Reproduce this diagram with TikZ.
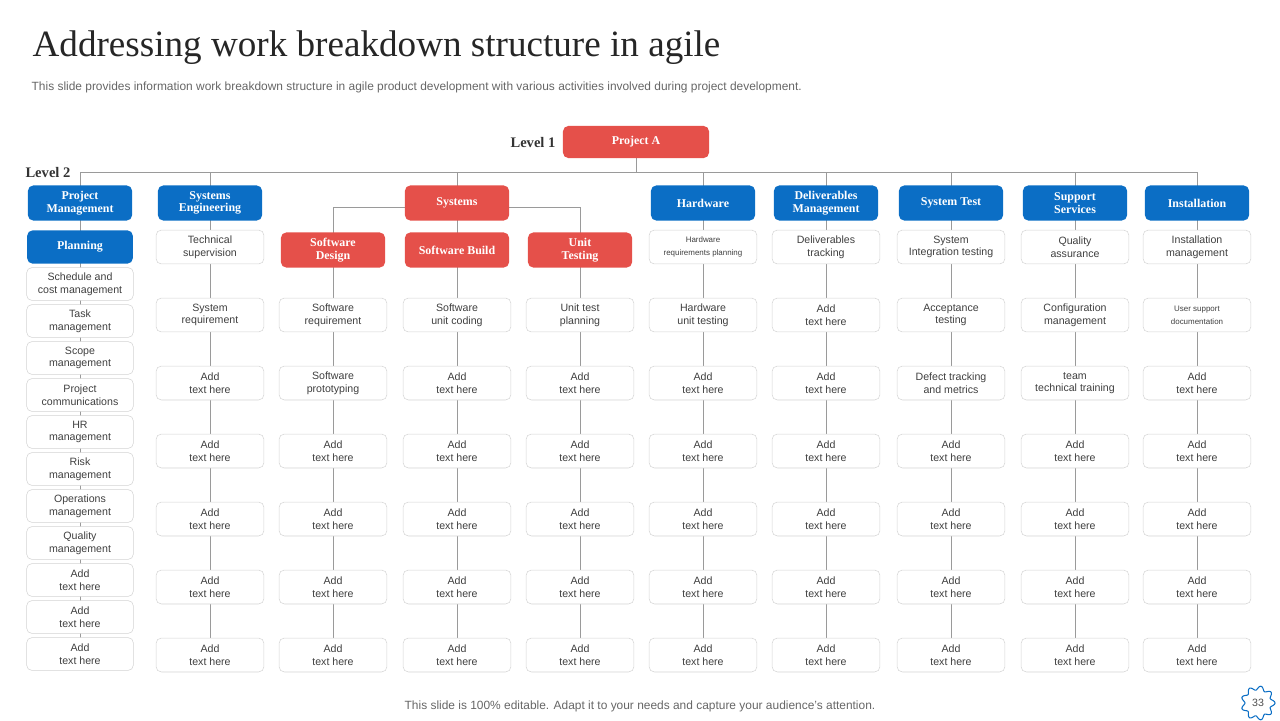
\documentclass[tikz,border=0pt]{standalone}
\usepackage{fontspec}
\setmainfont{Liberation Serif}
\setsansfont{Liberation Sans}
\definecolor{bl}{HTML}{0B6EC5}
\definecolor{rd}{HTML}{E5504A}
\definecolor{ln}{HTML}{9A9A9A}
\definecolor{bd}{HTML}{D4D4D4}
\definecolor{tx}{HTML}{404040}
\newcommand{\sm}[1]{{\fontsize{6}{8}\selectfont #1}}
\begin{document}
\begin{tikzpicture}[x=0.0265cm,y=-0.0265cm,
 hdr/.style={rounded corners=4pt,minimum width=2.76cm,minimum height=0.93cm,text=white,font=\rmfamily\bfseries\fontsize{9}{9.5}\selectfont,align=center,inner sep=1pt},
 bh/.style={hdr,fill=bl},
 rh/.style={hdr,fill=rd},
 wb/.style={draw=bd,fill=white,rounded corners=4pt,minimum width=2.86cm,minimum height=0.9cm,text=tx,font=\sffamily\fontsize{8}{9.5}\selectfont,align=center,inner sep=1pt},
 lb/.style={wb,minimum width=2.83cm,minimum height=0.87cm},
 con/.style={draw=ln,line width=0.6pt}]
\useasboundingbox (0,0) rectangle (1280,720);
\node[anchor=west,font=\rmfamily\fontsize{28}{30}\selectfont,text=black!85] (title) at (28,48) {Addressing work breakdown structure in agile};
\node[anchor=west,font=\sffamily\fontsize{9}{10}\selectfont,text=black!60] (sub) at (27,87) {This slide provides information work breakdown structure in agile product development with various activities involved during project development.};
\node[font=\sffamily\fontsize{9}{10}\selectfont,text=black!60] (foot) at (640,706) {This slide is 100\% editable. Adapt it to your needs and capture your audience's attention.};
% gear
\draw[bl,line width=0.8pt] plot[domain=0:360,samples=145,smooth] ({1258+(15+2*cos(9*\x))*cos(\x)},{703+(15+2*cos(9*\x))*sin(\x)}) -- cycle;
\node[font=\sffamily\fontsize{8}{9}\selectfont,text=black!70] (pg) at (1258,703) {33};
% levels
\node[font=\rmfamily\bfseries\fontsize{11}{12}\selectfont,text=black!80] (l1) at (533,143) {Level 1};
\node[font=\rmfamily\bfseries\fontsize{11}{12}\selectfont,text=black!80] (l2) at (48,173) {Level 2};
\coordinate (hl) at (80,172);
\coordinate (hr) at (1197,172);
\coordinate (hm) at (636,172);
\draw[con] (hl) -- (hr);
\draw[con] (636,158) -- (hm);
\coordinate (sl) at (333,207);
\coordinate (sr) at (580,207);
\draw[con] (sl) -- (sr);
% verticals
\foreach \x/\ya in {80/172,210/172,457/172,703/172,826/172,951/172,1075/172,1197/172,333/207,580/207}
  \draw[con] (\x,\ya) -- (\x,655);
\node[rh,minimum width=3.87cm,minimum height=0.85cm] (pa) at (636,142) {Project A};
\node[bh] (pm) at (80,203) {Project\\Management};
\node[bh] (se) at (210,203) {Systems\\Engineering};
\node[rh] (sy) at (457,203) {Systems};
\node[bh] (hw) at (703,203) {Hardware};
\node[bh] (dm) at (826,203) {Deliverables\\Management};
\node[bh] (st) at (951,203) {System Test};
\node[bh] (ss) at (1075,203) {Support\\Services};
\node[bh] (in) at (1197,203) {Installation};
\node[rh] (sd) at (333,250) {Software\\Design};
\node[rh] (sb) at (457,250) {Software Build};
\node[rh] (ut) at (580,250) {Unit\\Testing};
\node[bh,minimum width=2.8cm,minimum height=0.88cm] (pl) at (80,247) {Planning};
% left column
\foreach [count=\i] \t in {Schedule and\\cost management,Task\\management,Scope\\management,Project\\communications,HR\\management,Risk\\management,Operations\\management,Quality\\management,Add\\text here,Add\\text here,Add\\text here}
  \node[lb] (L\i) at (80,{284+37*(\i-1)}) {\t};
% generic columns
\def\col#1#2#3{\foreach [count=\i] \t in {#3} \node[wb] (#1\i) at (#2,{247+68*(\i-1)}) {\t};}
\col{a}{210}{Technical\\supervision,System\\requirement,Add\\text here,Add\\text here,Add\\text here,Add\\text here,Add\\text here}
\col{e}{703}{\sm{Hardware}\\\sm{requirements planning},Hardware\\unit testing,Add\\text here,Add\\text here,Add\\text here,Add\\text here,Add\\text here}
\col{f}{826}{Deliverables\\tracking,Add\\text here,Add\\text here,Add\\text here,Add\\text here,Add\\text here,Add\\text here}
\col{g}{951}{System\\Integration testing,Acceptance\\testing,Defect tracking\\and metrics,Add\\text here,Add\\text here,Add\\text here,Add\\text here}
\col{h}{1075}{Quality\\assurance,Configuration\\management,team\\technical training,Add\\text here,Add\\text here,Add\\text here,Add\\text here}
\col{k}{1197}{Installation\\management,\sm{User support}\\\sm{documentation},Add\\text here,Add\\text here,Add\\text here,Add\\text here,Add\\text here}
\def\colb#1#2#3{\foreach [count=\i] \t in {#3} \node[wb] (#1\i) at (#2,{315+68*(\i-1)}) {\t};}
\colb{b}{333}{Software\\requirement,Software\\prototyping,Add\\text here,Add\\text here,Add\\text here,Add\\text here}
\colb{c}{457}{Software\\unit coding,Add\\text here,Add\\text here,Add\\text here,Add\\text here,Add\\text here}
\colb{d}{580}{Unit test\\planning,Add\\text here,Add\\text here,Add\\text here,Add\\text here,Add\\text here}
\end{tikzpicture}
\end{document}
